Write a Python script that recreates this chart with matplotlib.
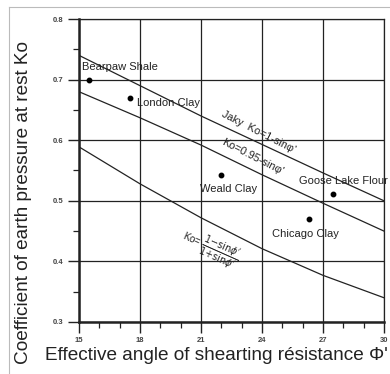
import matplotlib
matplotlib.use("Agg")
import matplotlib.pyplot as plt
from matplotlib.lines import Line2D
from matplotlib.ticker import MultipleLocator

plt.rcParams['font.family'] = ['Liberation Sans', 'DejaVu Sans']

# friction angle (deg) where the three trend lines were read
phi_line = [15, 18, 21, 24, 27, 30]
ko_jaky = [0.74, 0.69, 0.64, 0.593, 0.546, 0.50]
ko_095 = [0.68, 0.637, 0.592, 0.543, 0.496, 0.45]
ko_ratio = [0.589, 0.528, 0.472, 0.421, 0.377, 0.34]

# measured soils
soil_names = ['Bearpaw Shale', 'London Clay', 'Weald Clay', 'Goose Lake Flour', 'Chicago Clay']
soil_phi = [15.5, 17.5, 22.0, 27.5, 26.3]
soil_ko = [0.70, 0.67, 0.542, 0.512, 0.47]
label_phi = [15.15, 17.85, 20.95, 25.8, 24.5]
label_ko = [0.721, 0.662, 0.52, 0.533, 0.445]

x_ticks = [15, 18, 21, 24, 27, 30]
y_ticks = [0.3, 0.4, 0.5, 0.6, 0.7, 0.8]

fig = plt.figure(figsize=(3.9, 3.74), dpi=100)
ax = fig.add_axes([79 / 390, 1 - 322 / 374, 305 / 390, 303 / 374])

ax.plot(phi_line, ko_jaky, color='#222', lw=0.9)
ax.plot(phi_line, ko_095, color='#222', lw=0.9)
ax.plot(phi_line, ko_ratio, color='#222', lw=0.9)
ax.plot(soil_phi, soil_ko, 'o', color='black', ms=3.2, ls='none')

for name, x, y in zip(soil_names, label_phi, label_ko):
    ax.text(x, y, name, fontsize=8, color='#222', ha='left', va='center')

ax.text(23.85, 0.613, "Jaky  Ko=1-sinφ'", fontsize=7.8, color='#222',
        ha='center', va='center', rotation=-27)
ax.text(23.55, 0.573, "Ko=0.95-sinφ'", fontsize=7.8, color='#222',
        ha='center', va='center', rotation=-27)
ax.text(21.45, 0.42, r"Ko= $\dfrac{1\mathrm{-sin}\phi'}{1\mathrm{+sin}\phi'}$", fontsize=7,
        color='#222', ha='center', va='center', rotation=-24)

ax.set_xlim(15, 30)
ax.set_ylim(0.3, 0.8)
ax.set_xticks(x_ticks)
ax.set_yticks(y_ticks)
ax.set_xticklabels([str(t) for t in x_ticks])
ax.set_yticklabels(['%.1f' % t for t in y_ticks])
ax.xaxis.set_minor_locator(MultipleLocator(1))
ax.yaxis.set_minor_locator(MultipleLocator(0.05))
ax.tick_params(which='major', length=8, width=1, color='#222', pad=3,
               labelsize=5.5, labelcolor='#444')
ax.tick_params(which='minor', length=4, width=0.9, color='#222')
for lbl in ax.get_xticklabels() + ax.get_yticklabels():
    lbl.set_fontweight('bold')

ax.grid(True, which='major', color='#222', lw=0.9)
for side in ['top', 'right']:
    ax.spines[side].set_linewidth(0.9)
for side in ['bottom', 'left']:
    ax.spines[side].set_linewidth(1.8)
for s in ax.spines.values():
    s.set_color('#222')

fig.text(45 / 390, 1 - 356 / 374, "Effective angle of shearting résistance Φ'",
         fontsize=13.7, color='#222', ha='left', va='center')
fig.text(24 / 390, 1 - 202 / 374, "Coefficient of earth pressure at rest Ko",
         fontsize=13.7, color='#222', ha='center', va='center', rotation=90)

# thin outer frame
fig.add_artist(Line2D([9 / 390, 1], [1 - 7 / 374, 1 - 7 / 374], color='#bbb', lw=0.8))
fig.add_artist(Line2D([9 / 390, 9 / 390], [0, 1 - 7 / 374], color='#bbb', lw=0.8))

fig.savefig('out.png', dpi=100)
